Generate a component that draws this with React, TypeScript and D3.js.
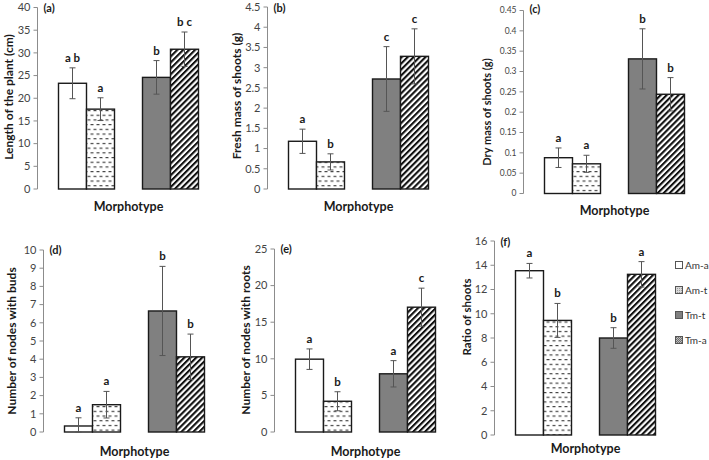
import React from "react";
import * as d3 from "d3";

const seriesNames = ["Am-a", "Am-t", "Tm-t", "Tm-a"];
const groupNames = ["Am", "Tm"];

const lengthMeans = [23.3, 17.6, 24.6, 30.8];
const lengthErr = [3.4, 2.5, 3.7, 3.8];
const lengthLetters = ["a b", "a", "b", "b c"];
const lengthTicks = [0, 5, 10, 15, 20, 25, 30, 35, 40];

const freshMeans = [1.18, 0.67, 2.72, 3.28];
const freshErr = [0.3, 0.2, 0.8, 0.68];
const freshLetters = ["a", "b", "c", "c"];
const freshTicks = [0, 0.5, 1, 1.5, 2, 2.5, 3, 3.5, 4, 4.5];

const dryMeans = [0.088, 0.073, 0.331, 0.244];
const dryErr = [0.024, 0.021, 0.074, 0.041];
const dryLetters = ["a", "a", "b", "b"];
const dryTicks = [0, 0.05, 0.1, 0.15, 0.2, 0.25, 0.3, 0.35, 0.4, 0.45];

const budsMeans = [0.33, 1.5, 6.65, 4.13];
const budsErr = [0.45, 0.73, 2.45, 1.25];
const budsLetters = ["a", "a", "b", "b"];
const budsTicks = [0, 1, 2, 3, 4, 5, 6, 7, 8, 9, 10];

const rootsMeans = [9.95, 4.2, 7.95, 17.05];
const rootsErr = [1.4, 1.3, 1.8, 2.6];
const rootsLetters = ["a", "b", "a", "c"];
const rootsTicks = [0, 5, 10, 15, 20, 25];

const ratioMeans = [13.55, 9.45, 8.0, 13.25];
const ratioErr = [0.6, 1.4, 0.85, 1.05];
const ratioLetters = ["a", "b", "b", "a"];
const ratioTicks = [0, 2, 4, 6, 8, 10, 12, 14, 16];

type Cfg = {
  label: string;
  labelY: number;
  title: string;
  means: number[];
  errs: number[];
  letters: string[];
  ticks: number[];
  axisX: number;
  top: number;
  bottom: number;
  titleX: number;
  titleY: number;
  titleSize: number;
  tickSize: number;
  morphY: number;
};

const panels: Cfg[] = [
  { label: "(a)", labelY: 8, title: "Length of the plant (cm)", means: lengthMeans, errs: lengthErr, letters: lengthLetters, ticks: lengthTicks,
    axisX: 37.5, top: 7.5, bottom: 189, titleX: 9, titleY: 97, titleSize: 12, tickSize: 11, morphY: 211 },
  { label: "(b)", labelY: 8, title: "Fresh mass of shoots (g)", means: freshMeans, errs: freshErr, letters: freshLetters, ticks: freshTicks,
    axisX: 267.5, top: 7, bottom: 189, titleX: 237, titleY: 96, titleSize: 12, tickSize: 11, morphY: 211 },
  { label: "(c)", labelY: 9, title: "Dry mass of shoots (g)", means: dryMeans, errs: dryErr, letters: dryLetters, ticks: dryTicks,
    axisX: 523.5, top: 10.5, bottom: 193.5, titleX: 487, titleY: 112, titleSize: 11, tickSize: 8.5, morphY: 215 },
  { label: "(d)", labelY: 250, title: "Number of nodes with buds", means: budsMeans, errs: budsErr, letters: budsLetters, ticks: budsTicks,
    axisX: 43.5, top: 250, bottom: 432, titleX: 12, titleY: 341, titleSize: 12, tickSize: 11, morphY: 456 },
  { label: "(e)", labelY: 249, title: "Number of nodes with roots", means: rootsMeans, errs: rootsErr, letters: rootsLetters, ticks: rootsTicks,
    axisX: 274.5, top: 249, bottom: 432, titleX: 246, titleY: 340, titleSize: 12, tickSize: 11, morphY: 456 },
  { label: "(f)", labelY: 242, title: "Ratio of shoots", means: ratioMeans, errs: ratioErr, letters: ratioLetters, ticks: ratioTicks,
    axisX: 494.5, top: 241, bottom: 435, titleX: 467, titleY: 317, titleSize: 11.5, tickSize: 11, morphY: 453 },
];

const barFills = ["#ffffff", "url(#dashPat)", "#808080", "url(#diagPat)"];
const legendFills = ["#ffffff", "url(#dotPat)", "#808080", "url(#checkPat)"];

const FONT = "Lato, 'Open Sans', sans-serif";

function Panel({ c }: { c: Cfg }) {
  const yMax = c.ticks[c.ticks.length - 1];
  const y = d3.scaleLinear().domain([0, yMax]).range([c.bottom, c.top]);
  const x = d3.scaleBand<string>().domain(groupNames).range([c.axisX, c.axisX + 182]).paddingInner(1 / 3).paddingOuter(0.25);
  const sub = d3.scaleBand<string>().domain(["0", "1"]).range([0, x.bandwidth()]);
  const fmt = (v: number) => String(v);
  return (
    <g>
      <line x1={c.axisX} x2={c.axisX} y1={c.top} y2={c.bottom} stroke="#8c8c8c" strokeWidth={1} />
      {c.ticks.map((t) => (
        <g key={t}>
          <line x1={c.axisX - 4} x2={c.axisX} y1={y(t)} y2={y(t)} stroke="#8c8c8c" strokeWidth={1} />
          <text x={c.axisX - 7} y={y(t)} dy="0.35em" textAnchor="end" fontSize={c.tickSize} fill="#444" fontFamily={FONT}>
            {fmt(t)}
          </text>
        </g>
      ))}
      {c.means.map((m, i) => {
        const gx = (x(groupNames[Math.floor(i / 2)]) as number) + (sub(String(i % 2)) as number);
        const bw = sub.bandwidth();
        const cx = gx + bw / 2;
        const hi = m + c.errs[i];
        const lo = Math.max(0, m - c.errs[i]);
        return (
          <g key={i}>
            <rect x={gx} y={y(m)} width={bw} height={c.bottom - y(m)} fill={barFills[i]} stroke="#1a1a1a" strokeWidth={1.4} />
            <line x1={cx} x2={cx} y1={y(hi)} y2={y(lo)} stroke="#555" strokeWidth={1} />
            <line x1={cx - 3} x2={cx + 3} y1={y(hi)} y2={y(hi)} stroke="#555" strokeWidth={1} />
            <line x1={cx - 3} x2={cx + 3} y1={y(lo)} y2={y(lo)} stroke="#555" strokeWidth={1} />
            <text x={cx} y={y(hi) - 6} textAnchor="middle" fontSize={11.5} fontWeight="bold" fill="#1a1a1a" fontFamily={FONT}>
              {c.letters[i]}
            </text>
          </g>
        );
      })}
      <text x={c.axisX + 6} y={c.labelY} dy="0.35em" fontSize={11} fontWeight="bold" fill="#1a1a1a" fontFamily={FONT}>
        {c.label}
      </text>
      <text
        transform={`translate(${c.titleX},${c.titleY}) rotate(-90)`}
        textAnchor="middle"
        dy="0.35em"
        fontSize={c.titleSize}
        fontWeight="bold"
        fill="#1a1a1a"
        fontFamily={FONT}
      >
        {c.title}
      </text>
      <text x={c.axisX + 91} y={c.morphY} textAnchor="middle" fontSize={12.5} fontWeight="bold" fill="#1a1a1a" fontFamily={FONT}>
        Morphotype
      </text>
    </g>
  );
}

export default function App() {
  return (
    <svg width={709} height={460} style={{ position: "absolute", left: 0, top: 0, background: "#fff" }}>
      <defs>
        <pattern id="dashPat" patternUnits="userSpaceOnUse" width={6} height={9.4}>
          <rect width={6} height={9.4} fill="#fff" />
          <line x1={0.5} x2={3.5} y1={2.5} y2={2.5} stroke="#222" strokeWidth={1} />
          <line x1={3.5} x2={6} y1={7.2} y2={7.2} stroke="#222" strokeWidth={1} />
          <line x1={0} x2={0.5} y1={7.2} y2={7.2} stroke="#222" strokeWidth={1} />
        </pattern>
        <pattern id="diagPat" patternUnits="userSpaceOnUse" width={4.2} height={4.2} patternTransform="rotate(45)">
          <rect width={4.2} height={4.2} fill="#fff" />
          <rect width={2.1} height={4.2} fill="#111" />
        </pattern>
        <pattern id="dotPat" patternUnits="userSpaceOnUse" width={2} height={2}>
          <rect width={2} height={2} fill="#d9d9d9" />
          <rect width={1} height={1} fill="#9a9a9a" />
        </pattern>
        <pattern id="checkPat" patternUnits="userSpaceOnUse" width={2} height={2}>
          <rect width={2} height={2} fill="#bdbdbd" />
          <rect width={1} height={1} fill="#6e6e6e" />
          <rect x={1} y={1} width={1} height={1} fill="#6e6e6e" />
        </pattern>
      </defs>
      <rect width={709} height={460} fill="#fff" />
      {panels.map((c) => (
        <Panel key={c.label} c={c} />
      ))}
      {seriesNames.map((s, i) => (
        <g key={s} transform={`translate(675,${265 + i * 25})`}>
          <rect x={0.5} y={-3.5} width={7} height={7} fill={legendFills[i]} stroke="#555" strokeWidth={1} />
          <text x={10} y={0} dy="0.35em" fontSize={10} fill="#333" fontFamily={FONT}>
            {s}
          </text>
        </g>
      ))}
    </svg>
  );
}
